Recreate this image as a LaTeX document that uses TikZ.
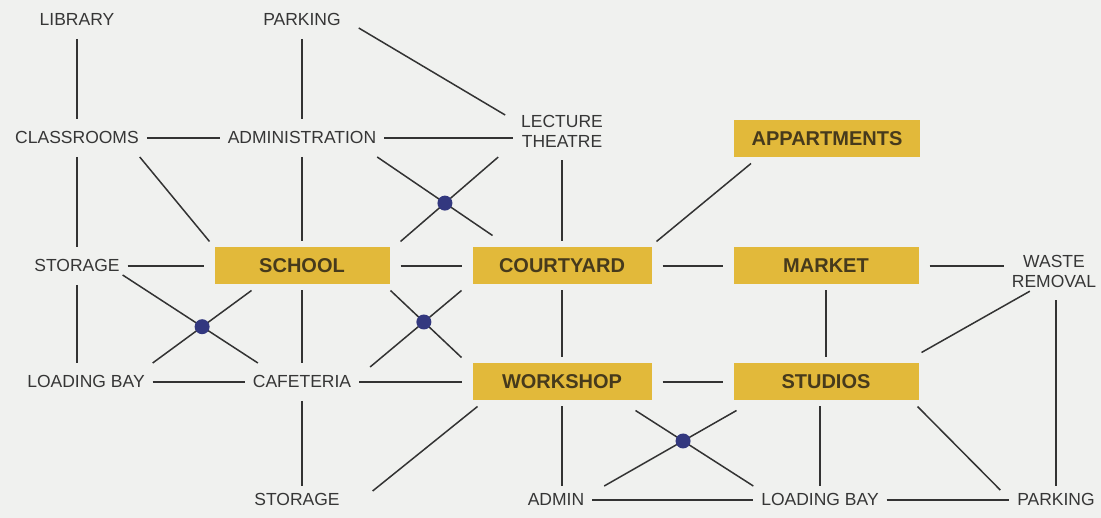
\documentclass[tikz,border=0pt]{standalone}
\usepackage{fontspec}
\setmainfont{Liberation Sans}
\usetikzlibrary{calc,intersections}
\definecolor{paper}{HTML}{F0F1EF}
\definecolor{ink}{HTML}{363636}
\definecolor{wire}{HTML}{333333}
\definecolor{gold}{HTML}{E2B93A}
\definecolor{goldink}{HTML}{463A1C}
\definecolor{knot}{HTML}{33387F}
\newcommand{\Lbl}{\fontsize{17.5}{20}\selectfont}
\newcommand{\Zone}{\fontsize{20}{24}\selectfont\bfseries}
\tikzset{
  place/.style={font=\Lbl, text=ink, inner sep=0pt, outer xsep=8pt, outer ysep=13pt},
  oneline/.style={place, text height=12pt, text depth=0pt},
  lowline/.style={oneline, outer ysep=8pt},
  twoline/.style={place, align=center},
  zone/.style={fill=gold, text=goldink, font=\Zone, minimum height=37pt, inner sep=0pt, outer xsep=11pt, outer ysep=6pt},
  link/.style={wire, line width=1.5pt},
  clash/.style={fill=knot},
}

\begin{document}
\begin{tikzpicture}[x=1pt,y=-1pt]
      \useasboundingbox (0,0) rectangle (1101,518);
      \fill[paper] (0,0) rectangle (1101,518);
      % rooms and zones
      \node[oneline] (library) at (77,20) {LIBRARY};
      \node[oneline] (parkT) at (302,20) {PARKING};
      \node[oneline] (classrooms) at (77,138) {CLASSROOMS};
      \node[oneline] (admin) at (302,138) {ADMINISTRATION};
      \node[twoline] (lecture) at (562,131) {LECTURE\\THEATRE};
      \node[zone, minimum width=186pt] (appart) at (827,139) {APPARTMENTS};
      \node[oneline] (storeL) at (77,266) {STORAGE};
      \node[zone, minimum width=175pt] (school) at (302,266) {SCHOOL};
      \node[zone, minimum width=179pt] (court) at (562,266) {COURTYARD};
      \node[zone, minimum width=185pt] (market) at (826,266) {MARKET};
      \node[twoline] (waste) at (1054,271) {WASTE\\REMOVAL};
      \node[oneline] (loadL) at (86,382) {LOADING BAY};
      \node[oneline] (cafe) at (302,382) {CAFETERIA};
      \node[zone, minimum width=179pt] (shop) at (562,382) {WORKSHOP};
      \node[zone, minimum width=185pt] (studios) at (826,382) {STUDIOS};
      \node[lowline] (storeB) at (297,500) {STORAGE};
      \node[lowline] (adminB) at (556,500) {ADMIN};
      \node[lowline] (loadB) at (820,500) {LOADING BAY};
      \node[lowline] (parkB) at (1056,500) {PARKING};
      % straight links
      \foreach \a/\b in {library/classrooms, classrooms/storeL, parkT/admin, admin/school, school/cafe,
        lecture/court, court/shop, market/studios, classrooms/admin, storeL/school, school/court,
        court/market, loadL/cafe, cafe/shop, shop/studios, adminB/loadB, loadB/parkB}
        \draw[link] (\a) -- (\b);
      \draw[link] (storeL) -- (storeL |- loadL.north);
      \draw[link] (cafe.south) -- (cafe.south |- storeB.north);
      \draw[link] (shop.south) -- (shop.south |- adminB.north);
      \draw[link] (loadB.north) -- (loadB.north |- studios.south);
      \draw[link] (parkB.north) -- (parkB.north |- waste.south);
      \draw[link] (admin.east) -- (admin.east -| lecture.west);
      \draw[link] (market.east) -- (market.east -| waste.west);
      % diagonal links
      \draw[link] ([xshift=10pt,yshift=-8pt]parkT.east) -- ([xshift=-8pt,yshift=16pt]lecture.west);
      \draw[link] ([xshift=-7pt]classrooms.south east) -- ([xshift=6pt]school.north west);
      \draw[link] ([xshift=-6pt]court.north east) -- ([xshift=28pt]appart.south west);
      \draw[link] ([xshift=-8pt,yshift=5pt]studios.north east) -- ([xshift=26pt,yshift=9pt]waste.south west);
      \draw[link] ([xshift=16pt]shop.south west) -- ([xshift=25pt,yshift=-5pt]storeB.north east);
      \draw[link] ([xshift=-12pt]studios.south east) -- ([xshift=-9pt,yshift=-4pt]parkB.north west);
      % crossing pairs
      \draw[link, name path=ac] ([xshift=-7pt]admin.south east) -- ([xshift=31pt,yshift=6pt]court.north west);
      \draw[link, name path=ls] ([xshift=-15pt,yshift=3pt]lecture.south west) -- (school.north east);
      \draw[link, name path=sc] ([xshift=-5pt,yshift=10pt]storeL.south east) -- ([xshift=13pt]cafe.north west);
      \draw[link, name path=sl] ([xshift=48pt]school.south west) -- (loadL.north east);
      \draw[link, name path=sw] ([xshift=-10pt]school.south east) -- (shop.north west);
      \draw[link, name path=cc] (court.south west) -- ([xshift=11pt,yshift=-4pt]cafe.north east);
      \draw[link, name path=wl] ([xshift=-27pt,yshift=-4pt]shop.south east) -- (loadB.north west);
      \draw[link, name path=sa] ([xshift=14pt,yshift=-4pt]studios.south west) -- ([xshift=12pt]adminB.north east);
      \fill[clash, name intersections={of=ac and ls}] (intersection-1) circle (7.5pt);
      \fill[clash, name intersections={of=sc and sl}] (intersection-1) circle (7.5pt);
      \fill[clash, name intersections={of=sw and cc}] (intersection-1) circle (7.5pt);
      \fill[clash, name intersections={of=wl and sa}] (intersection-1) circle (7.5pt);
    \end{tikzpicture}
\end{document}
